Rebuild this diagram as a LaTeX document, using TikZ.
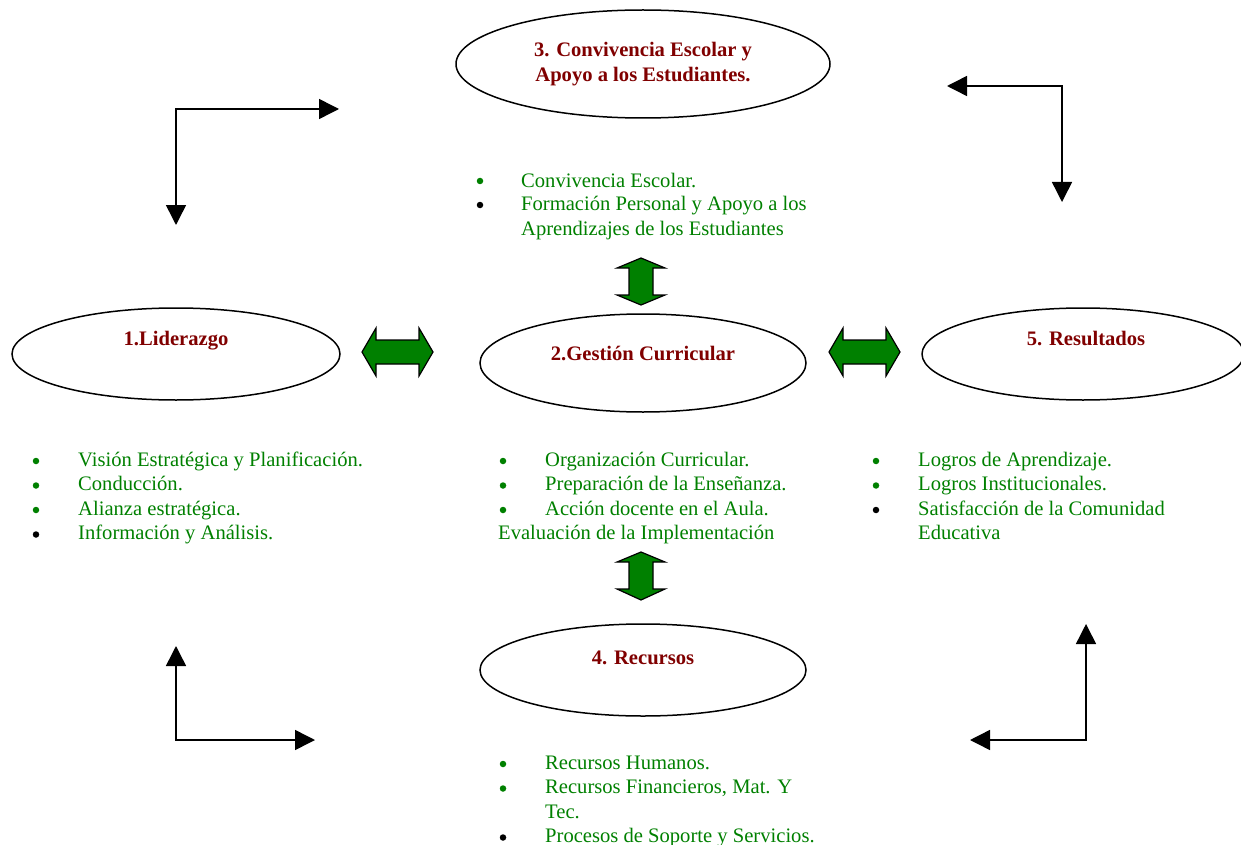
\documentclass[tikz,border=0pt]{standalone}
\usepackage{fontspec}
\setmainfont{Liberation Serif}
\usetikzlibrary{shapes.geometric,arrows.meta}
\definecolor{titlered}{RGB}{128,0,0}
\definecolor{itemgreen}{RGB}{0,128,0}
\tikzset{
  oval/.style={draw, line width=1.5pt, ellipse, inner sep=0pt},
  ttl/.style={font=\fontsize{20.6}{24}\selectfont\bfseries, text=titlered, anchor=base, align=center, inner sep=0pt},
  itm/.style={font=\fontsize{20.6}{24}\selectfont, text=itemgreen, anchor=base west, inner sep=0pt},
  gbul/.style={circle, fill=itemgreen, inner sep=0pt, minimum size=6.5pt},
  kbul/.style={circle, fill=black, inner sep=0pt, minimum size=6.5pt},
  dblarrow/.style={draw=black, line width=1.2pt, fill=itemgreen, line join=miter},
  cornerarrow/.style={line width=1.5pt, {Triangle[length=20pt,width=20pt]}-{Triangle[length=20pt,width=20pt]}},
}
\begin{document}
\begin{tikzpicture}[x=1pt,y=-1pt]
\useasboundingbox (0,0) rectangle (1241,845);

% ellipses
\node[oval, minimum width=374pt, minimum height=108pt] (e3) at (643,64) {};
\node[oval, minimum width=328pt, minimum height=92pt] (e1) at (176,354) {};
\node[oval, minimum width=326pt, minimum height=98pt] (e2) at (643,363) {};
\node[oval, minimum width=322pt, minimum height=92pt] (e5) at (1083,354) {};
\node[oval, minimum width=326pt, minimum height=92pt] (e4) at (643,670) {};

% titles
\node[ttl] (t3a) at (643,57) {3. Convivencia Escolar y};
\node[ttl] (t3b) at (643,82) {Apoyo a los Estudiantes.};
\node[ttl] (t1) at (176,345) {1.Liderazgo};
\node[ttl] (t2) at (643,360) {2.Gestión Curricular};
\node[ttl] (t5) at (1086,345) {5. Resultados};
\node[ttl] (t4) at (643,664) {4. Recursos};

% green double arrows
\draw[dblarrow] (362,352) -- (376,328) -- (376,340) -- (419,340) -- (419,328) -- (433,352) -- (419,376) -- (419,364) -- (376,364) -- (376,376) -- cycle;
\draw[dblarrow] (829,352) -- (843,328) -- (843,340) -- (886,340) -- (886,328) -- (900,352) -- (886,376) -- (886,364) -- (843,364) -- (843,376) -- cycle;
\draw[dblarrow] (641,258) -- (665,268) -- (653,268) -- (653,295) -- (665,295) -- (641,305) -- (617,295) -- (629,295) -- (629,268) -- (617,268) -- cycle;
\draw[dblarrow] (641,552) -- (665,562) -- (653,562) -- (653,589) -- (665,589) -- (641,600) -- (617,589) -- (629,589) -- (629,562) -- (617,562) -- cycle;

% corner arrows
\coordinate (a1s) at (176,225); \coordinate (a1c) at (176,109); \coordinate (a1e) at (339,109);
\draw[cornerarrow] (a1s) -- (a1c) -- (a1e);
\coordinate (a2s) at (947,86); \coordinate (a2c) at (1062,86); \coordinate (a2e) at (1062,202);
\draw[cornerarrow] (a2s) -- (a2c) -- (a2e);
\coordinate (a3s) at (176,646); \coordinate (a3c) at (176,740); \coordinate (a3e) at (315,740);
\draw[cornerarrow] (a3s) -- (a3c) -- (a3e);
\coordinate (a4s) at (970,740); \coordinate (a4c) at (1086,740); \coordinate (a4e) at (1086,624);
\draw[cornerarrow] (a4s) -- (a4c) -- (a4e);

% list 3 (top)
\node[gbul] (b3a) at (480,181) {};
\node[itm] (l3a) at (521,187) {Convivencia Escolar.};
\node[kbul] (b3b) at (480,205) {};
\node[itm] (l3b) at (521,211) {Formación Personal y Apoyo a los};
\node[itm] (l3c) at (521,235) {Aprendizajes de los Estudiantes};

% list 1 (left)
\node[gbul] (b1a) at (36,461) {};
\node[itm] (l1a) at (78,466) {Visión Estratégica y Planificación.};
\node[gbul] (b1b) at (36,485.5) {};
\node[itm] (l1b) at (78,490.5) {Conducción.};
\node[gbul] (b1c) at (36,510) {};
\node[itm] (l1c) at (78,515) {Alianza estratégica.};
\node[kbul] (b1d) at (36,534.5) {};
\node[itm] (l1d) at (78,539.5) {Información y Análisis.};

% list 2 (middle)
\node[gbul] (b2a) at (503,461) {};
\node[itm] (l2a) at (545,466) {Organización Curricular.};
\node[gbul] (b2b) at (503,485.5) {};
\node[itm] (l2b) at (545,490.5) {Preparación de la Enseñanza.};
\node[gbul] (b2c) at (503,510) {};
\node[itm] (l2c) at (545,515) {Acción docente en el Aula.};
\node[itm] (l2d) at (498,539.5) {Evaluación de la Implementación};

% list 5 (right)
\node[gbul] (b5a) at (876,461) {};
\node[itm] (l5a) at (918,466) {Logros de Aprendizaje.};
\node[gbul] (b5b) at (876,485.5) {};
\node[itm] (l5b) at (918,490.5) {Logros Institucionales.};
\node[kbul] (b5c) at (876,510) {};
\node[itm] (l5c) at (918,515) {Satisfacción de la Comunidad};
\node[itm] (l5d) at (918,539.5) {Educativa};

% list 4 (bottom)
\node[gbul] (b4a) at (503,764) {};
\node[itm] (l4a) at (545,769) {Recursos Humanos.};
\node[gbul] (b4b) at (503,788.5) {};
\node[itm] (l4b) at (545,793.5) {Recursos Financieros, Mat. Y};
\node[itm] (l4c) at (545,818) {Tec.};
\node[kbul] (b4d) at (503,837.5) {};
\node[itm] (l4d) at (545,842.5) {Procesos de Soporte y Servicios.};
\end{tikzpicture}
\end{document}
